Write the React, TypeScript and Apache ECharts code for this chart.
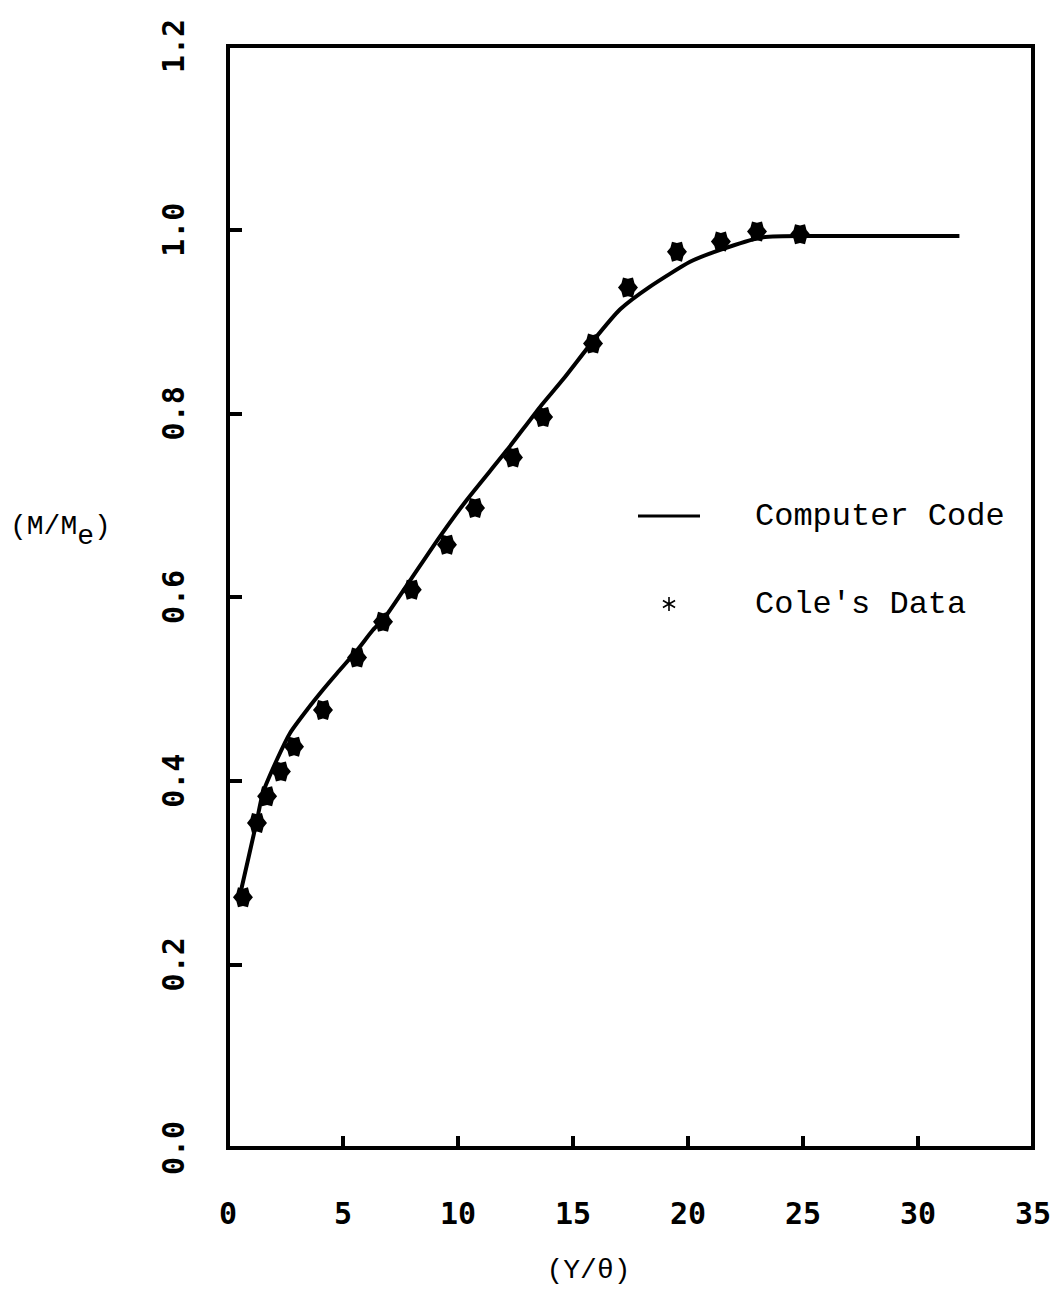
import React, { useEffect, useRef } from "react";
import * as echarts from "echarts";

// Computer code curve (Y/θ, M/Me)
const codeX = [0.5, 1.26, 1.52, 2.13, 2.7, 3.43, 4.13, 4.74, 5.61, 6.3, 6.83, 8.0, 9.22, 10.39, 12.13, 13.57, 14.57, 15.91, 17.04, 18.35, 20.09, 21.4, 23.1, 24.9, 31.8];
const codeY = [0.273, 0.357, 0.387, 0.423, 0.452, 0.477, 0.499, 0.517, 0.542, 0.564, 0.578, 0.621, 0.666, 0.706, 0.76, 0.807, 0.837, 0.88, 0.913, 0.938, 0.965, 0.978, 0.991, 0.993, 0.993];

// Cole's data points
const coleX = [0.65, 1.26, 1.7, 2.3, 2.87, 4.13, 5.61, 6.74, 7.99, 9.52, 10.74, 12.39, 13.7, 15.87, 17.39, 19.52, 21.43, 23.0, 24.87];
const coleY = [0.273, 0.354, 0.383, 0.41, 0.437, 0.477, 0.534, 0.573, 0.608, 0.657, 0.697, 0.752, 0.796, 0.876, 0.937, 0.976, 0.987, 0.998, 0.995];

const xTicks = [0, 5, 10, 15, 20, 25, 30, 35];
const yTicks = [0.0, 0.2, 0.4, 0.6, 0.8, 1.0, 1.2];

const STAR =
  "path://M20 10 L16.5 13.75 L15 18.66 L10 17.5 L5 18.66 L3.5 13.75 L0 10 L3.5 6.25 L5 1.34 L10 2.5 L15 1.34 L16.5 6.25 Z";
const ASTERISK =
  "path://M6.2 0 L7.8 0 L7.8 14 L6.2 14 Z M1.338 2.807 L13.462 9.807 L12.662 11.193 L0.538 4.193 Z M0.538 9.807 L12.662 2.807 L13.462 4.193 L1.338 11.193 Z";
const THIN_LINE = "path://M0 0 L60 0 L60 3 L0 3 Z";

const MONO = "'Liberation Mono', 'DejaVu Sans Mono', monospace";
const BOLDMONO = "'DejaVu Sans Mono', 'Liberation Mono', monospace";

export default function App() {
  const ref = useRef<HTMLDivElement>(null);
  useEffect(() => {
    if (!ref.current) return;
    const chart = echarts.init(ref.current, undefined, { renderer: "svg" });
    chart.setOption({
      animation: false,
      backgroundColor: "#fff",
      grid: {
        left: 228,
        top: 46,
        right: 23,
        bottom: 150,
        show: true,
        borderColor: "#000",
        borderWidth: 4,
      },
      xAxis: {
        type: "value",
        min: xTicks[0],
        max: xTicks[xTicks.length - 1],
        interval: 5,
        splitLine: { show: false },
        axisLine: { show: true, lineStyle: { color: "#000", width: 4 } },
        axisTick: { show: true, inside: true, length: 12, lineStyle: { color: "#000", width: 4 } },
        axisLabel: {
          margin: 50,
          color: "#000",
          fontFamily: BOLDMONO,
          fontWeight: "bold",
          fontSize: 30,
        },
        name: "(Y/θ)",
        nameLocation: "middle",
        nameGap: 108,
        nameTextStyle: {
          color: "#000",
          fontFamily: MONO,
          fontSize: 28,
          padding: [0, 84, 0, 0],
        },
      },
      yAxis: {
        type: "value",
        min: yTicks[0],
        max: yTicks[yTicks.length - 1],
        interval: 0.2,
        splitLine: { show: false },
        axisLine: { show: true, lineStyle: { color: "#000", width: 4 } },
        axisTick: { show: true, inside: true, length: 14, lineStyle: { color: "#000", width: 4 } },
        axisLabel: {
          rotate: 90,
          margin: 40,
          color: "#000",
          fontFamily: BOLDMONO,
          fontWeight: "bold",
          fontSize: 30,
          formatter: (v: number) => v.toFixed(1),
        },
      },
      legend: {
        left: 633,
        top: 495,
        orient: "vertical",
        itemWidth: 62,
        itemHeight: 14,
        itemGap: 56,
        symbolKeepAspect: true,
        textStyle: {
          color: "#000",
          fontFamily: MONO,
          fontSize: 32,
          padding: [0, 0, 0, 50],
        },
        data: [
          { name: "Computer Code", icon: THIN_LINE, itemStyle: { color: "#000" } },
          { name: "Cole's Data", icon: ASTERISK, itemStyle: { color: "#000" } },
        ],
      },
      graphic: [
        {
          type: "text",
          left: 10,
          top: 512,
          style: {
            text: "(M/M{sub|e})",
            fill: "#000",
            font: `28px ${MONO}`,
            rich: {
              sub: { fontSize: 28, fontFamily: MONO, fill: "#000", padding: [20, 0, 0, 0] },
            },
          },
        },
      ],
      series: [
        {
          name: "Computer Code",
          type: "line",
          data: codeX.map((x, i) => [x, codeY[i]]),
          smooth: 0.2,
          symbol: "none",
          lineStyle: { color: "#000", width: 4 },
          itemStyle: { color: "#000" },
          z: 2,
        },
        {
          name: "Cole's Data",
          type: "scatter",
          data: coleX.map((x, i) => [x, coleY[i]]),
          symbol: STAR,
          symbolSize: 20,
          itemStyle: { color: "#000", opacity: 1 },
          z: 3,
        },
      ],
    });
    return () => chart.dispose();
  }, []);
  return (
    <div
      ref={ref}
      style={{ position: "absolute", left: 0, top: 0, width: 1056, height: 1298, background: "#fff" }}
    />
  );
}
